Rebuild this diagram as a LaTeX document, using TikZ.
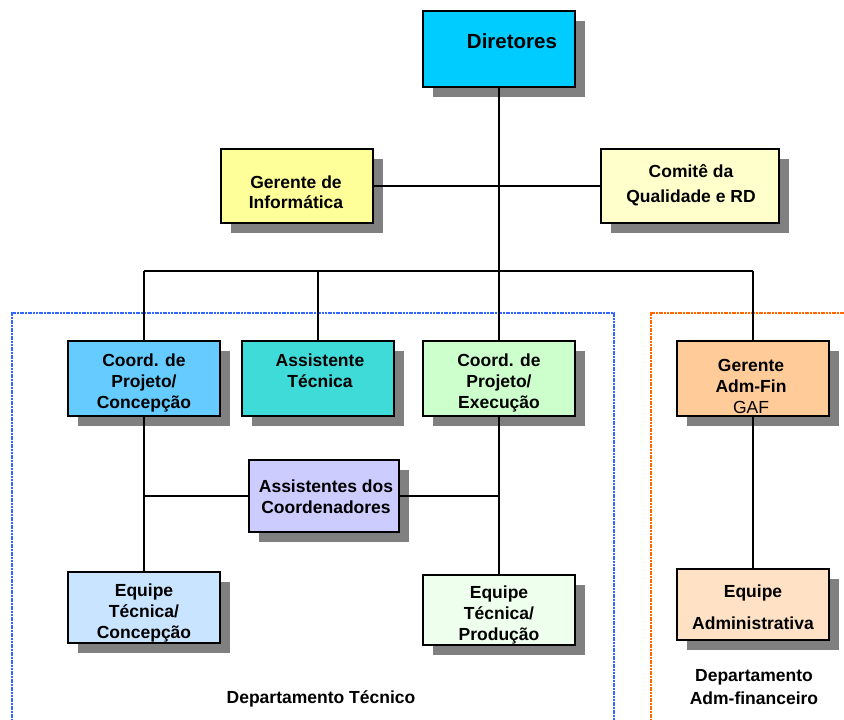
\documentclass[tikz,border=0pt]{standalone}
\usepackage{fontspec}
\setmainfont{Liberation Sans}
\usetikzlibrary{shadows}

% fills of the organisation chart
\definecolor{cDir}{HTML}{00CCFF}
\definecolor{cInf}{HTML}{FFFF99}
\definecolor{cCom}{HTML}{FFFFCC}
\definecolor{cCoordC}{HTML}{66CCFF}
\definecolor{cAssT}{HTML}{3FDBD9}
\definecolor{cCoordE}{HTML}{CCFFCC}
\definecolor{cGaf}{HTML}{FFCC99}
\definecolor{cAssC}{HTML}{CCCCFF}
\definecolor{cEqC}{HTML}{C9E4FF}
\definecolor{cEqP}{HTML}{EEFFEE}
\definecolor{cEqA}{HTML}{FFE2C6}
\definecolor{cShadow}{HTML}{808080}
\definecolor{cFrameBlue}{HTML}{3366FF}
\definecolor{cFrameOrange}{HTML}{FF6600}

\begin{document}
\begin{tikzpicture}[x=1pt,y=-1pt,
  box/.style={draw=black, line width=1.5pt, inner sep=0pt,
    minimum width=152pt, minimum height=75pt,
    drop shadow={shadow xshift=10pt, shadow yshift=-10pt, fill=cShadow, opacity=1}},
  % multi-line labels are placed by the baseline of their last line
  lbl/.style={anchor=base, inner sep=0pt, align=center,
    font=\bfseries\fontsize{17.5}{21}\selectfont},
  link/.style={draw=black, line width=1.2pt},
  spine/.style={draw=black, line width=1.8pt},
  frame/.style={line width=2.4pt, dash pattern=on 2pt off 0.7pt},
]
\useasboundingbox (0,0) rectangle (844,720);
\clip (0,0) rectangle (844,720);
\fill[white] (0,0) rectangle (844,720);

% department frames
\draw[frame, cFrameBlue] (12,740) -- (12,313) -- (614,313) -- (614,740);
\draw[frame, cFrameOrange] (651,740) -- (651,313) -- (860,313);

% boxes
\node[box, fill=cDir, line width=2pt, minimum height=76pt] (dir) at (499,49) {};
\node[box, fill=cInf, minimum height=74pt] (inf) at (297,186) {};
\node[box, fill=cCom, minimum width=178pt, minimum height=74pt] (com) at (690,186) {};
\node[box, fill=cCoordC] (cc) at (144,378.5) {};
\node[box, fill=cAssT] (at) at (318,378.5) {};
\node[box, fill=cCoordE] (ce) at (499,378.5) {};
\node[box, fill=cGaf] (gaf) at (753,378.5) {};
\node[box, fill=cAssC, minimum width=150pt, minimum height=72pt] (asc) at (324,496) {};
\node[box, fill=cEqC, minimum height=71pt] (etc) at (144,607.5) {};
\node[box, fill=cEqP, minimum height=70pt] (etp) at (499,610) {};
\node[box, fill=cEqA, minimum height=71pt] (ead) at (753,604.5) {};

% box texts
\node[lbl, font=\bfseries\fontsize{20.5}{24}\selectfont] (dir-t) at (512,48.3) {Diretores};
\node[lbl, font=\bfseries\fontsize{17.5}{20}\selectfont] (inf-t) at (296,208) {Gerente de\\Informática};
\node[lbl, font=\bfseries\fontsize{17.5}{25}\selectfont] (com-t) at (691,202.3) {Comitê da\\Qualidade e RD};
\node[lbl] (cc-t) at (144,408.7) {Coord. de\\Projeto/\\Concepção};
\node[lbl] (at-t) at (320,387.7) {Assistente\\Técnica};
\node[lbl] (ce-t) at (499,408.7) {Coord. de\\Projeto/\\Execução};
\node[lbl] (gaf-t) at (751,413.7) {Gerente\\Adm-Fin\\\mdseries GAF};
\node[lbl] (asc-t) at (326,513.7) {Assistentes dos\\Coordenadores};
\node[lbl] (etc-t) at (144,638.7) {Equipe\\Técnica/\\Concepção};
\node[lbl] (etp-t) at (499,640.3) {Equipe\\Técnica/\\Produção};
\node[lbl, font=\bfseries\fontsize{17.5}{32}\selectfont] (ead-t) at (753,629) {Equipe\\Administrativa};

% department names
\node[lbl] (dtec) at (321,703) {Departamento Técnico};
\node[lbl, font=\bfseries\fontsize{17.5}{23}\selectfont] (dadm) at (754,704.7) {Departamento\\Adm-financeiro};

% connectors
\coordinate (bus) at (499,271);
\draw[spine] (dir.south) -- (bus);
\draw[link] (inf.east) -- (com.west);
\draw[link] (cc.north |- bus) -- (gaf.north |- bus);
\draw[link] (cc.north |- bus) -- (cc.north);
\draw[link] (at.north |- bus) -- (at.north);
\draw[spine] (bus) -- (ce.north);
\draw[link] (gaf.north |- bus) -- (gaf.north);
\draw[link] (cc.south) -- (etc.north);
\draw[spine] (ce.south) -- (etp.north);
\draw[link] (gaf.south) -- (ead.north);
\draw[link] (cc.south |- asc.west) -- (asc.west);
\draw[link] (asc.east) -- (ce.south |- asc.east);
\end{tikzpicture}
\end{document}
